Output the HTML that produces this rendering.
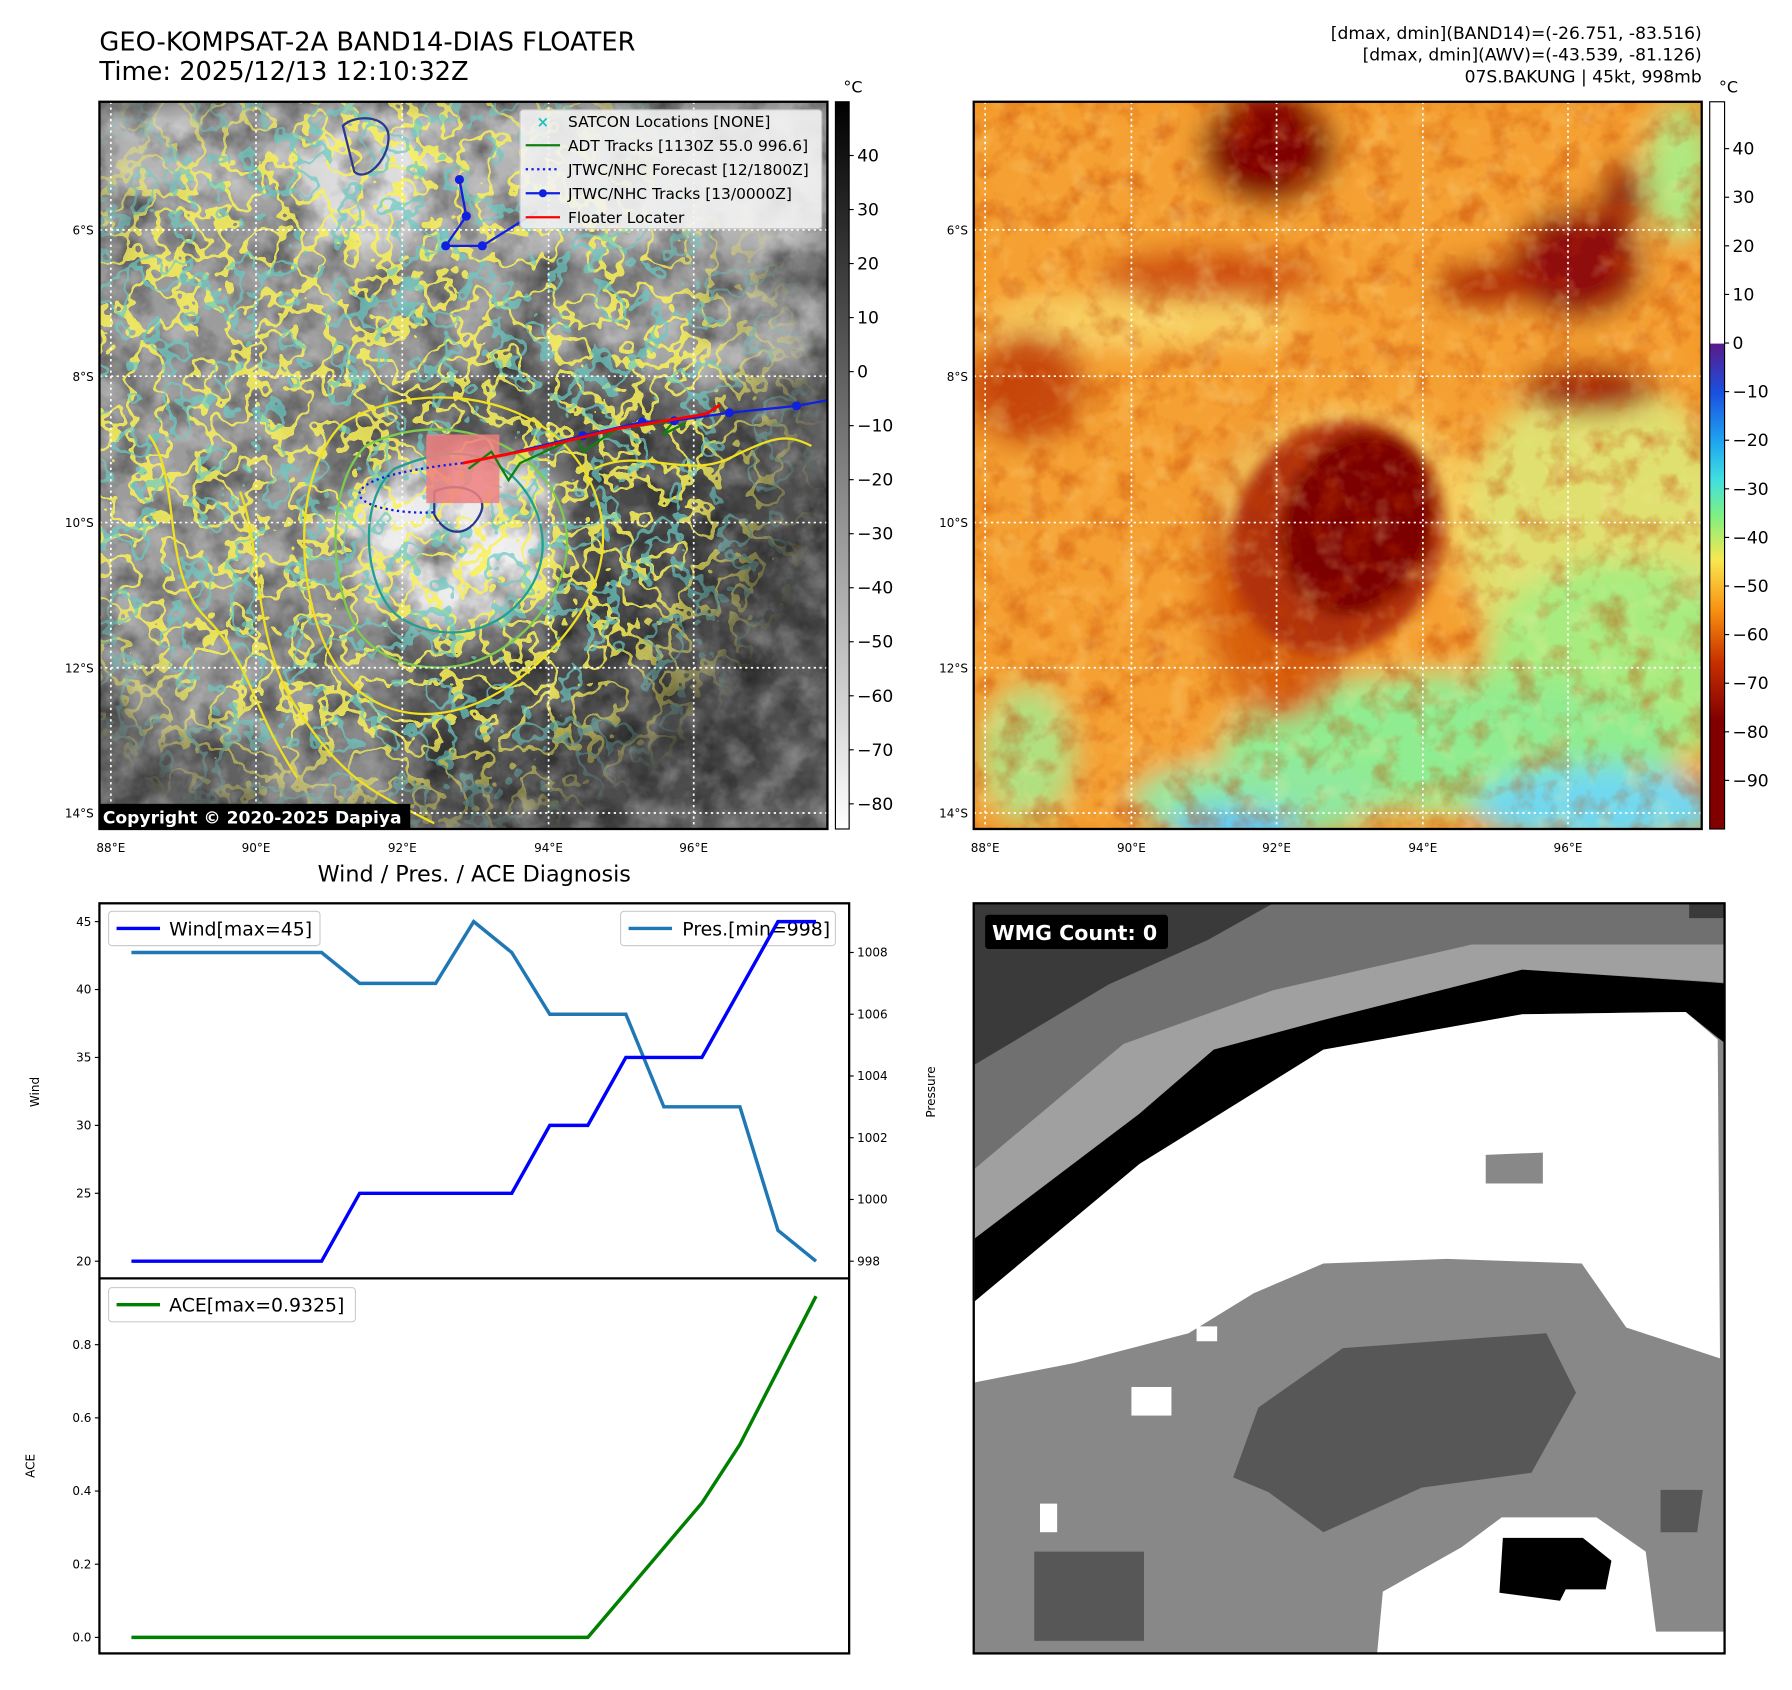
<!DOCTYPE html>
<html><head><meta charset="utf-8"><style>
html,body{margin:0;padding:0;background:#fff;}
svg{display:block;font-family:"DejaVu Sans","Liberation Sans",sans-serif;}
</style></head><body>
<svg id="root" width="1792" height="1690" viewBox="0 0 1568 1478" preserveAspectRatio="none" xmlns="http://www.w3.org/2000/svg">
<defs>
<filter id="b12" x="-30%" y="-30%" width="160%" height="160%"><feGaussianBlur stdDeviation="12"/></filter>
<filter id="b6" x="-30%" y="-30%" width="160%" height="160%"><feGaussianBlur stdDeviation="6"/></filter>
<filter id="noiseG" x="0" y="0" width="100%" height="100%">
<feTurbulence type="fractalNoise" baseFrequency="0.03" numOctaves="4" seed="3"/>
<feColorMatrix type="matrix" values="0 0 0 0 0  0 0 0 0 0  0 0 0 0 0  0 0 0 -1.0 0.6"/>
</filter>
<filter id="noiseW" x="0" y="0" width="100%" height="100%">
<feTurbulence type="fractalNoise" baseFrequency="0.04" numOctaves="4" seed="8"/>
<feColorMatrix type="matrix" values="0 0 0 0 1  0 0 0 0 1  0 0 0 0 1  0 0 0 1.2 -0.5"/>
</filter>
<filter id="noiseC" x="0" y="0" width="100%" height="100%">
<feTurbulence type="fractalNoise" baseFrequency="0.035" numOctaves="3" seed="21"/>
<feComponentTransfer><feFuncA type="discrete" tableValues="0 0 0 0 0 0 0 1 0 0 0 0 0 0"/></feComponentTransfer>
<feColorMatrix type="matrix" values="0 0 0 0 0.95  0 0 0 0 0.88  0 0 0 0 0.1  0 0 0 1 0"/>
</filter>
<filter id="noiseC2" x="0" y="0" width="100%" height="100%">
<feTurbulence type="fractalNoise" baseFrequency="0.035" numOctaves="3" seed="33"/>
<feComponentTransfer><feFuncA type="discrete" tableValues="0 0 0 0 0 0 0 0 1 0 0 0 0 0"/></feComponentTransfer>
<feColorMatrix type="matrix" values="0 0 0 0 0.15  0 0 0 0 0.6  0 0 0 0 0.55  0 0 0 1 0"/>
</filter>
<filter id="noiseR" x="0" y="0" width="100%" height="100%">
<feTurbulence type="fractalNoise" baseFrequency="0.04" numOctaves="4" seed="5"/>
<feColorMatrix type="matrix" values="0 0 0 0 0.55  0 0 0 0 0.05  0 0 0 0 0  0 0 0 1.6 -0.75"/>
</filter>
<filter id="noiseY" x="0" y="0" width="100%" height="100%">
<feTurbulence type="fractalNoise" baseFrequency="0.045" numOctaves="3" seed="11"/>
<feColorMatrix type="matrix" values="0 0 0 0 0.98  0 0 0 0 0.85  0 0 0 0 0.35  0 0 0 1.4 -0.7"/>
</filter>
<radialGradient id="fadeG" cx="0.4" cy="0.45" r="0.6"><stop offset="0" stop-color="#fff"/><stop offset="0.7" stop-color="#fff"/><stop offset="1" stop-color="#000"/></radialGradient>
<mask id="fadeM"><rect x="87" y="89" width="637" height="636" fill="url(#fadeG)"/></mask>
<clipPath id="clipL"><rect x="87" y="89" width="637" height="636"/></clipPath>
<clipPath id="clipR"><rect x="852" y="89" width="637" height="636"/></clipPath>
<clipPath id="clipB"><rect x="852" y="790" width="657" height="656"/></clipPath>
<linearGradient id="cbL" x1="0" y1="0" x2="0" y2="1"><stop offset="0" stop-color="#000"/><stop offset="1" stop-color="#fff"/></linearGradient>
<linearGradient id="cbR" x1="0" y1="0" x2="0" y2="1">
<stop offset="0" stop-color="#fff"/><stop offset="0.332" stop-color="#fff"/><stop offset="0.333" stop-color="#5a1a8a"/>
<stop offset="0.40" stop-color="#1a50e0"/><stop offset="0.47" stop-color="#20a8f0"/><stop offset="0.52" stop-color="#40e0e0"/>
<stop offset="0.57" stop-color="#80f080"/><stop offset="0.63" stop-color="#f8e850"/><stop offset="0.70" stop-color="#f89010"/>
<stop offset="0.77" stop-color="#c83000"/><stop offset="0.85" stop-color="#800000"/><stop offset="1" stop-color="#800000"/>
</linearGradient>
</defs>

<text x="87" y="44" font-size="22.5">GEO-KOMPSAT-2A BAND14-DIAS FLOATER</text>
<text x="87" y="70" font-size="22.5">Time: 2025/12/13 12:10:32Z</text>
<g font-size="15" text-anchor="end">
<text x="1489" y="34">[dmax, dmin](BAND14)=(-26.751, -83.516)</text>
<text x="1489" y="53">[dmax, dmin](AWV)=(-43.539, -81.126)</text>
<text x="1489" y="72">07S.BAKUNG | 45kt, 998mb</text>
</g>

<g>
<g clip-path="url(#clipL)">
<rect x="87" y="89" width="637" height="636" fill="#606060"/>
<g filter="url(#b12)">
<rect x="87" y="89" width="637" height="140" fill="#b4b4b4"/>
<ellipse cx="260" cy="260" rx="200" ry="90" fill="#9a9a9a"/>
<ellipse cx="180" cy="450" rx="120" ry="200" fill="#9c9c9c"/>
<ellipse cx="600" cy="290" rx="130" ry="50" fill="#a8a8a8"/>
<ellipse cx="400" cy="470" rx="100" ry="80" fill="#ececec"/>
<ellipse cx="290" cy="620" rx="70" ry="110" fill="#8a8a8a"/>
<ellipse cx="320" cy="160" rx="60" ry="60" fill="#dcdcdc"/>
<ellipse cx="600" cy="500" rx="120" ry="120" fill="#484848"/>
<ellipse cx="520" cy="640" rx="180" ry="80" fill="#4c4c4c"/>
<ellipse cx="530" cy="360" rx="70" ry="40" fill="#555"/>
</g>
<rect x="87" y="89" width="637" height="636" filter="url(#noiseG)"/>
<rect x="87" y="89" width="637" height="636" filter="url(#noiseW)" opacity="0.5"/>
<g mask="url(#fadeM)">
<rect x="87" y="89" width="637" height="636" filter="url(#noiseC)" opacity="0.85"/>
<rect x="87" y="89" width="637" height="636" filter="url(#noiseC2)" opacity="0.7"/>
</g>
<g fill="none" stroke-width="2">
<path d="M300 370 C250 420 260 540 300 590 S420 640 490 560 S520 400 470 370 S350 340 300 370Z" stroke="#f0e020"/>
<path d="M320 390 C280 430 290 530 320 560 S420 600 470 540 S490 420 450 395 S360 370 320 390Z" stroke="#7ccc50"/>
<path d="M345 410 C310 440 320 520 350 540 S430 560 460 520 S470 430 440 410 S380 395 345 410Z" stroke="#20a090"/>
<path d="M130 380 C160 420 140 500 180 540 S220 620 260 680" stroke="#f0e020"/>
<path d="M210 430 C230 480 220 560 260 620 S320 690 380 720" stroke="#f0e020"/>
<path d="M520 410 C560 390 600 420 640 400 S690 380 710 390" stroke="#f0e020"/>
<path d="M300 110 C310 100 340 100 340 120 S320 160 310 150 Z" stroke="#2a3a8a"/>
<path d="M380 430 C400 420 430 430 420 450 S390 470 380 450Z" stroke="#2a3a8a"/>
</g>
<rect x="373" y="380" width="64" height="60" fill="#f08080" opacity="0.85"/>
<g stroke="#fff" stroke-width="1.5" stroke-dasharray="2,3">
<line x1="97" y1="89" x2="97" y2="725"/><line x1="224" y1="89" x2="224" y2="725"/><line x1="352" y1="89" x2="352" y2="725"/><line x1="480" y1="89" x2="480" y2="725"/><line x1="607" y1="89" x2="607" y2="725"/>
<line x1="87" y1="201" x2="724" y2="201"/><line x1="87" y1="329" x2="724" y2="329"/><line x1="87" y1="457" x2="724" y2="457"/><line x1="87" y1="584" x2="724" y2="584"/><line x1="87" y1="711" x2="724" y2="711"/>
</g>
<polyline points="410,410 430,395 445,420 455,405 505,382 510,395 540,375 590,368 580,380 600,370" fill="none" stroke="#108010" stroke-width="2"/>
<path d="M405 405 C360 410 320 418 315 430 S350 450 380 448" fill="none" stroke="#1020e0" stroke-width="2" stroke-dasharray="2,3"/>
<g>
<polyline points="724,350 697,355 638,361 590,368 562,369 510,381 440,398 405,405" fill="none" stroke="#1020e0" stroke-width="2"/>
<polyline points="402,157 408,189 390,215 422,215 470,185" fill="none" stroke="#1020e0" stroke-width="2"/>
<g fill="#1020e0"><circle cx="697" cy="355" r="4"/><circle cx="638" cy="361" r="4"/><circle cx="590" cy="368" r="4"/><circle cx="562" cy="369" r="4"/><circle cx="510" cy="381" r="4"/><circle cx="402" cy="157" r="4"/><circle cx="408" cy="189" r="4"/><circle cx="390" cy="215" r="4"/><circle cx="422" cy="215" r="4"/></g>
</g>
<polyline points="405,405 470,392 540,375 600,365 618,362 630,354" fill="none" stroke="#ff0000" stroke-width="2.5"/>
</g>
<rect x="87" y="89" width="637" height="636" fill="none" stroke="#000" stroke-width="2"/>
<g>
<rect x="455" y="96" width="264" height="104" rx="3" fill="#f4f4f4" opacity="0.88" stroke="#ccc"/>
<g font-size="13.5"><text x="497" y="111">SATCON Locations [NONE]</text><text x="497" y="132">ADT Tracks [1130Z 55.0 996.6]</text><text x="497" y="153">JTWC/NHC Forecast [12/1800Z]</text><text x="497" y="174">JTWC/NHC Tracks [13/0000Z]</text><text x="497" y="195">Floater Locater</text></g>
<text x="475" y="111" font-size="13" fill="#20c0c0" text-anchor="middle" font-weight="bold">×</text>
<line x1="460" y1="127" x2="490" y2="127" stroke="#108010" stroke-width="2"/>
<line x1="460" y1="148" x2="490" y2="148" stroke="#1020e0" stroke-width="2" stroke-dasharray="2,3"/>
<line x1="460" y1="169" x2="490" y2="169" stroke="#1020e0" stroke-width="2"/><circle cx="475" cy="169" r="3.5" fill="#1020e0"/>
<line x1="460" y1="190" x2="490" y2="190" stroke="#ff0000" stroke-width="2"/>
</g>
<rect x="87" y="703" width="272" height="22" fill="#000"/>
<text x="90" y="720" font-size="15" font-weight="bold" fill="#fff">Copyright © 2020-2025 Dapiya</text>
</g>
<g font-size="10.5">
<g text-anchor="end"><text x="82" y="205">6°S</text><text x="82" y="333">8°S</text><text x="82" y="461">10°S</text><text x="82" y="588">12°S</text><text x="82" y="715">14°S</text></g>
<g text-anchor="middle"><text x="97" y="745">88°E</text><text x="224" y="745">90°E</text><text x="352" y="745">92°E</text><text x="480" y="745">94°E</text><text x="607" y="745">96°E</text></g>
</g>
<g>
<rect x="731" y="89" width="12" height="636" fill="url(#cbL)" stroke="#000"/>
<text x="738" y="81" font-size="14">°C</text>
<g id="cbLticks"></g>
</g>

<g>
<g clip-path="url(#clipR)">
<rect x="852" y="89" width="637" height="636" fill="#f09020"/>
<g filter="url(#b12)">
<rect x="852" y="89" width="637" height="636" fill="#f5a030"/>
<ellipse cx="1400" cy="470" rx="120" ry="140" fill="#e0e070"/>
<ellipse cx="1420" cy="580" rx="120" ry="90" fill="#a8ec80"/>
<ellipse cx="1270" cy="650" rx="200" ry="60" fill="#90ec90"/>
<ellipse cx="1100" cy="700" rx="110" ry="35" fill="#90e8a0"/>
<ellipse cx="1400" cy="705" rx="110" ry="35" fill="#70d8f0"/>
<ellipse cx="1080" cy="725" rx="60" ry="20" fill="#60c8f8"/>
<ellipse cx="900" cy="660" rx="40" ry="60" fill="#b0e080"/>
<ellipse cx="1470" cy="150" rx="30" ry="60" fill="#b0e880"/>
<ellipse cx="1000" cy="280" rx="140" ry="22" fill="#f8d060"/>
<ellipse cx="1110" cy="130" rx="60" ry="50" fill="#800000"/>
<ellipse cx="1060" cy="240" rx="100" ry="22" fill="#d05010"/>
<ellipse cx="1380" cy="230" rx="60" ry="50" fill="#900808"/>
<ellipse cx="1300" cy="250" rx="45" ry="22" fill="#b02000"/>
<ellipse cx="1420" cy="170" rx="20" ry="30" fill="#900808"/>
<ellipse cx="1390" cy="340" rx="60" ry="22" fill="#a01000"/>
<ellipse cx="900" cy="340" rx="50" ry="50" fill="#c84a08"/>
<ellipse cx="1120" cy="500" rx="70" ry="130" fill="#d86010"/>
<ellipse cx="1180" cy="440" rx="110" ry="80" fill="#f8d060"/>
</g>
<g filter="url(#b6)">
<ellipse cx="1170" cy="470" rx="92" ry="105" transform="rotate(25 1170 470)" fill="#b03008"/>
<ellipse cx="1188" cy="458" rx="65" ry="82" transform="rotate(20 1188 458)" fill="#7c0000"/>
</g>
<rect x="852" y="89" width="637" height="636" filter="url(#noiseR)" opacity="0.7"/>
<rect x="852" y="89" width="637" height="636" filter="url(#noiseY)" opacity="0.5"/>
<g stroke="#fff" stroke-width="1.5" stroke-dasharray="2,3">
<line x1="862" y1="89" x2="862" y2="725"/><line x1="990" y1="89" x2="990" y2="725"/><line x1="1117" y1="89" x2="1117" y2="725"/><line x1="1245" y1="89" x2="1245" y2="725"/><line x1="1372" y1="89" x2="1372" y2="725"/>
<line x1="852" y1="201" x2="1489" y2="201"/><line x1="852" y1="329" x2="1489" y2="329"/><line x1="852" y1="457" x2="1489" y2="457"/><line x1="852" y1="584" x2="1489" y2="584"/><line x1="852" y1="711" x2="1489" y2="711"/>
</g>
</g>
<rect x="852" y="89" width="637" height="636" fill="none" stroke="#000" stroke-width="2"/>
</g>
<g font-size="10.5">
<g text-anchor="end"><text x="847" y="205">6°S</text><text x="847" y="333">8°S</text><text x="847" y="461">10°S</text><text x="847" y="588">12°S</text><text x="847" y="715">14°S</text></g>
<g text-anchor="middle"><text x="862" y="745">88°E</text><text x="990" y="745">90°E</text><text x="1117" y="745">92°E</text><text x="1245" y="745">94°E</text><text x="1372" y="745">96°E</text></g>
</g>
<g>
<rect x="1496" y="89" width="13" height="636" fill="url(#cbR)" stroke="#000"/>
<text x="1504" y="81" font-size="14">°C</text>
<g id="cbRticks"></g>
</g>

<text x="415" y="771" font-size="19.5" text-anchor="middle">Wind / Pres. / ACE Diagnosis</text>
<g id="chart">
<rect x="87" y="790" width="656" height="656" fill="#fff" stroke="#000" stroke-width="2"/>
<line x1="87" y1="1118" x2="743" y2="1118" stroke="#000" stroke-width="2"/>
<text transform="translate(34 955) rotate(-90)" font-size="10.5" text-anchor="middle">Wind</text>
<text transform="translate(818 955) rotate(-90)" font-size="10.5" text-anchor="middle">Pressure</text>
<text transform="translate(30 1282) rotate(-90)" font-size="10.5" text-anchor="middle">ACE</text>
<g><rect x="95" y="797" width="185" height="30" rx="3" fill="#fff" stroke="#ccc"/><line x1="102" y1="812" x2="140" y2="812" stroke="#0000ff" stroke-width="3"/><text x="148" y="818" font-size="16.5">Wind[max=45]</text></g>
<g><rect x="543" y="797" width="188" height="30" rx="3" fill="#fff" stroke="#ccc"/><line x1="550" y1="812" x2="588" y2="812" stroke="#1f77b4" stroke-width="3"/><text x="597" y="818" font-size="16.5">Pres.[min=998]</text></g>
<g><rect x="95" y="1126" width="216" height="30" rx="3" fill="#fff" stroke="#ccc"/><line x1="102" y1="1141" x2="140" y2="1141" stroke="#008000" stroke-width="3"/><text x="148" y="1147" font-size="16.5">ACE[max=0.9325]</text></g>
<g id="marks"></g>
</g>

<g>
<g clip-path="url(#clipB)">
<rect x="852" y="790" width="657" height="656" fill="#888"/>
<polygon points="852,790 1509,790 1509,826 1288,826 1114,866 983,913 853,1022" fill="#707070"/>
<polygon points="852,790 1114,790 1057,822 970,861 853,931" fill="#3a3a3a"/>
<polygon points="1478,790 1509,790 1509,803 1478,803" fill="#3a3a3a"/>
<polygon points="853,1022 983,913 1114,866 1288,826 1509,826 1509,859 1332,848 1158,892 1062,918 997,974 853,1083" fill="#a0a0a0"/>
<polygon points="853,1083 997,974 1062,918 1158,892 1332,848 1497,859 1509,860 1509,912 1475,885 1332,887 1158,918 997,1018 853,1138" fill="#000"/>
<polygon points="853,1138 997,1018 1158,918 1332,887 1475,885 1503,909 1505,1188 1423,1161 1384,1105 1266,1101 1158,1105 1097,1131 1040,1166 940,1192 853,1209" fill="#fff"/>
<polygon points="1300,1010 1350,1008 1350,1035 1300,1035" fill="#888"/>
<polygon points="1205,1446 1210,1392 1279,1353 1314,1327 1397,1327 1440,1357 1449,1427 1509,1427 1509,1446" fill="#fff"/>
<polygon points="1101,1231 1175,1179 1353,1166 1379,1218 1340,1288 1244,1301 1158,1340 1110,1305 1079,1292" fill="#575757"/>
<polygon points="905,1357 1001,1357 1001,1435 905,1435" fill="#575757"/>
<polygon points="1453,1303 1490,1303 1485,1340 1453,1340" fill="#575757"/>
<polygon points="1315,1345 1385,1345 1410,1365 1405,1390 1370,1390 1365,1400 1312,1393" fill="#000"/>
<rect x="990" y="1213" width="35" height="25" fill="#fff"/>
<rect x="910" y="1315" width="15" height="25" fill="#fff"/>
<rect x="1047" y="1160" width="18" height="13" fill="#fff"/>
</g>
<rect x="852" y="790" width="657" height="656" fill="none" stroke="#000" stroke-width="2"/>
<rect x="862" y="800" width="160" height="30" rx="3" fill="#000"/>
<text x="868" y="822" font-size="18" font-weight="bold" fill="#fff">WMG Count: 0</text>
</g>
</svg>
<script>
const windVals = [20,20,20,20,20,20,25,25,25,25,25,30,30,35,35,35,40,45,45];
const presVals = [1008,1008,1008,1008,1008,1008,1007,1007,1007,1009,1008,1006,1006,1006,1003,1003,1003,999,998];
const aceVals = [0,0,0,0,0,0,0,0,0,0,0,0,0,0.1225,0.245,0.3675,0.5275,0.73,0.9325];
const windTicks = [20,25,30,35,40,45];
const presTicks = [998,1000,1002,1004,1006,1008];
const aceTicks = [0.0,0.2,0.4,0.6,0.8];
const cbLTicks = [40,30,20,10,0,-10,-20,-30,-40,-50,-60,-70,-80];
const cbRTicks = [40,30,20,10,0,-10,-20,-30,-40,-50,-60,-70,-80,-90];

const NS = "http://www.w3.org/2000/svg";
const xS = i => 115 + i * (714 - 115) / (windVals.length - 1);
const yWind = v => 1103 - (v - 20) * (1103 - 806) / 25;
const yPres = v => 1103 - (v - 998) * (1103 - 833) / 10;
const yAce = v => 1432 - v * (1432 - 1176) / 0.8;
const yCbL = v => 325 - v * 4.725;
const yCbR = v => 300 - v * 4.25;
function mk(tag, attrs, parent) {
  const e = document.createElementNS(NS, tag);
  for (const k in attrs) e.setAttribute(k, attrs[k]);
  parent.appendChild(e);
  return e;
}
const marks = document.getElementById('marks');
function line(vals, yf, color, name) {
  const p = mk('polyline', {points: vals.map((v, i) => xS(i) + ',' + yf(v)).join(' '), fill: 'none', stroke: color, 'stroke-width': 3}, marks);
  
  
}
line(presVals, yPres, '#1f77b4', 'pressure-line');
line(windVals, yWind, '#0000ff', 'wind-line');
line(aceVals, yAce, '#008000', 'ace-line');
function ticks(arr, yf, x, side, fmt, parent, size, len) {
  arr.forEach(v => {
    const y = yf(v);
    const tk = mk('line', {x1: x, x2: x + (side === 'left' ? -len : len), y1: y, y2: y, stroke: '#000'}, parent);
    
    
    const t = mk('text', {x: side === 'left' ? x - len - 3 : x + len + 3, y: y + size * 0.35, 'font-size': size, 'text-anchor': side === 'left' ? 'end' : 'start'}, parent);
    t.textContent = fmt(v);
    
    
  });
}
ticks(windTicks, yWind, 87, 'left', v => String(v), marks, 10.5, 4);
ticks(presTicks, yPres, 743, 'right', v => String(v), marks, 10.5, 4);
ticks(aceTicks, yAce, 87, 'left', v => v.toFixed(1), marks, 10.5, 4);
const minus = v => (v < 0 ? '\u2212' + Math.abs(v) : String(v));
ticks(cbLTicks, yCbL, 743, 'right', minus, document.getElementById('cbLticks'), 15, 4);
ticks(cbRTicks, yCbR, 1509, 'right', minus, document.getElementById('cbRticks'), 15, 4);
</script>
</body></html>
